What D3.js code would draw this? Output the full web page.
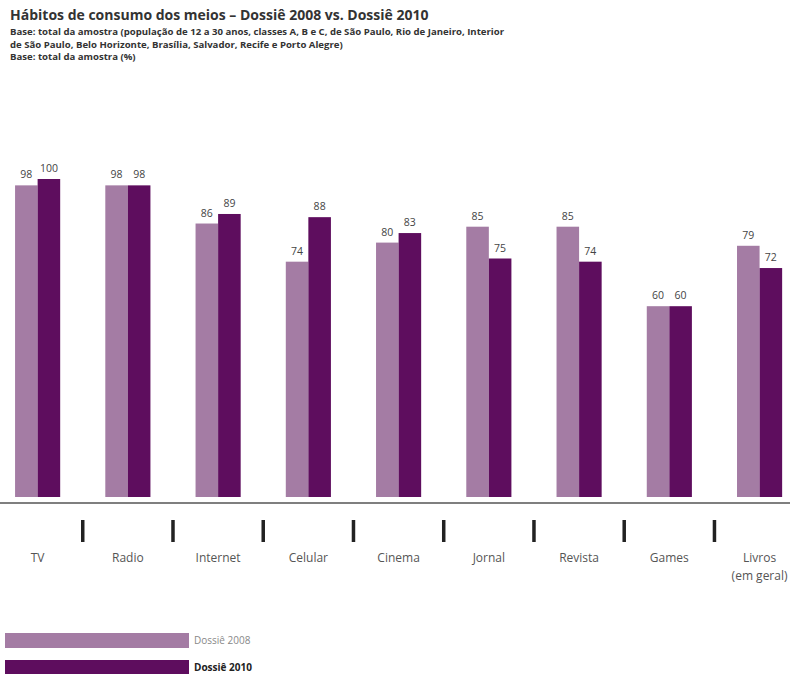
<!DOCTYPE html>
<html>
<head>
<meta charset="utf-8">
<script src="https://cdn.jsdelivr.net/npm/d3@7"></script>
<style>
  body { margin: 0; background: #fff; }
  svg { display: block; font-family: "Open Sans", sans-serif; }
</style>
</head>
<body>
<svg id="grafico"></svg>
<script>
// dados
var categorias = ["TV", "Radio", "Internet", "Celular", "Cinema", "Jornal", "Revista", "Games", "Livros"]
var rotulos = ["TV", "Radio", "Internet", "Celular", "Cinema", "Jornal", "Revista", "Games", "Livros|(em geral)"]
var series = ["Dossiê 2008", "Dossiê 2010"]
var dossie2008 = [98, 98, 86, 74, 80, 85, 85, 60, 79]
var dossie2010 = [100, 98, 89, 88, 83, 75, 74, 60, 72]

var cores = ["#a47ca4", "#5e0d5e"]

const width = 790
const height = 674

var svg = d3.select("#grafico")
    .attr("width", width)
    .attr("height", height)

// titulo e subtitulos
svg.append("text")
    .attr("x", 10).attr("y", 20)
    .style("font-size", "14px")
    .style("font-weight", "bold")
    .style("fill", "#333")
    .text("Hábitos de consumo dos meios – Dossiê 2008 vs. Dossiê 2010")

var subtitulos = [
    "Base: total da amostra (população de 12 a 30 anos, classes A, B e C, de São Paulo, Rio de Janeiro, Interior",
    "de São Paulo, Belo Horizonte, Brasília, Salvador, Recife e Porto Alegre)",
    "Base: total da amostra (%)"
]
svg.append("g")
    .selectAll("text")
    .data(subtitulos)
    .join("text")
    .attr("x", 10)
    .attr("y", (d, i) => 35 + i * 12.5)
    .style("font-size", "9.6px")
    .style("font-weight", "bold")
    .style("fill", "#333")
    .text(d => d)

// escalas
var x0 = d3.scaleBand()
    .domain(categorias)
    .range([-7.5, 804.7])
    .paddingInner(0.5)
    .paddingOuter(0.25)

var x1 = d3.scaleBand()
    .domain(series)
    .range([0, x0.bandwidth()])

var y = d3.scaleLinear()
    .domain([0, 100])
    .range([497, 179])

var dados = categorias.map((c, i) => ({
    cat: c,
    valores: [
        { serie: series[0], v: dossie2008[i] },
        { serie: series[1], v: dossie2010[i] }
    ]
}))

// barras
var grupos = svg.append("g")
    .selectAll("g")
    .data(dados)
    .join("g")
    .attr("transform", d => "translate(" + x0(d.cat) + ",0)")

grupos.selectAll("rect")
    .data(d => d.valores)
    .join("rect")
    .attr("x", d => x1(d.serie))
    .attr("width", x1.bandwidth())
    .attr("y", d => y(d.v))
    .attr("height", d => y(0) - y(d.v))
    .style("fill", (d, i) => cores[i])

// valores em cima das barras
grupos.selectAll("text")
    .data(d => d.valores)
    .join("text")
    .attr("x", d => x1(d.serie) + x1.bandwidth() / 2)
    .attr("y", d => y(d.v) - 7)
    .attr("text-anchor", "middle")
    .style("font-size", "10.5px")
    .style("fill", "#444")
    .text(d => d.v)

// linha do eixo
svg.append("line")
    .attr("x1", 0).attr("x2", width)
    .attr("y1", 503).attr("y2", 503)
    .attr("stroke", "#555")
    .attr("stroke-width", 1.5)

// marcadores entre categorias
svg.append("g")
    .selectAll("rect")
    .data(categorias.slice(0, -1))
    .join("rect")
    .attr("x", d => x0(d) + x0.bandwidth() / 2 + x0.step() / 2 - 1.75)
    .attr("y", 520)
    .attr("width", 3.5)
    .attr("height", 22)
    .style("fill", "#222")

// nomes das categorias
var nomes = svg.append("g")
    .selectAll("text")
    .data(categorias)
    .join("text")
    .attr("x", d => x0(d) + x0.bandwidth() / 2)
    .attr("y", 562)
    .attr("text-anchor", "middle")
    .style("font-size", "12px")
    .style("fill", "#555")

nomes.selectAll("tspan")
    .data((d, i) => rotulos[i].split("|"))
    .join("tspan")
    .attr("x", function() { return this.parentNode.getAttribute("x") })
    .attr("dy", (d, i) => i == 0 ? 0 : 18)
    .text(d => d)

// legenda
var legenda = svg.append("g")
    .selectAll("g")
    .data(series)
    .join("g")
    .attr("transform", (d, i) => "translate(5," + (633 + i * 27) + ")")

legenda.append("rect")
    .attr("width", 184)
    .attr("height", 15)
    .style("fill", (d, i) => cores[i])

legenda.append("text")
    .attr("x", 189)
    .attr("y", 11)
    .style("font-size", "10px")
    .style("font-weight", (d, i) => i == 1 ? "bold" : "normal")
    .style("fill", (d, i) => i == 1 ? "#222" : "#888")
    .text(d => d)
</script>
</body>
</html>
